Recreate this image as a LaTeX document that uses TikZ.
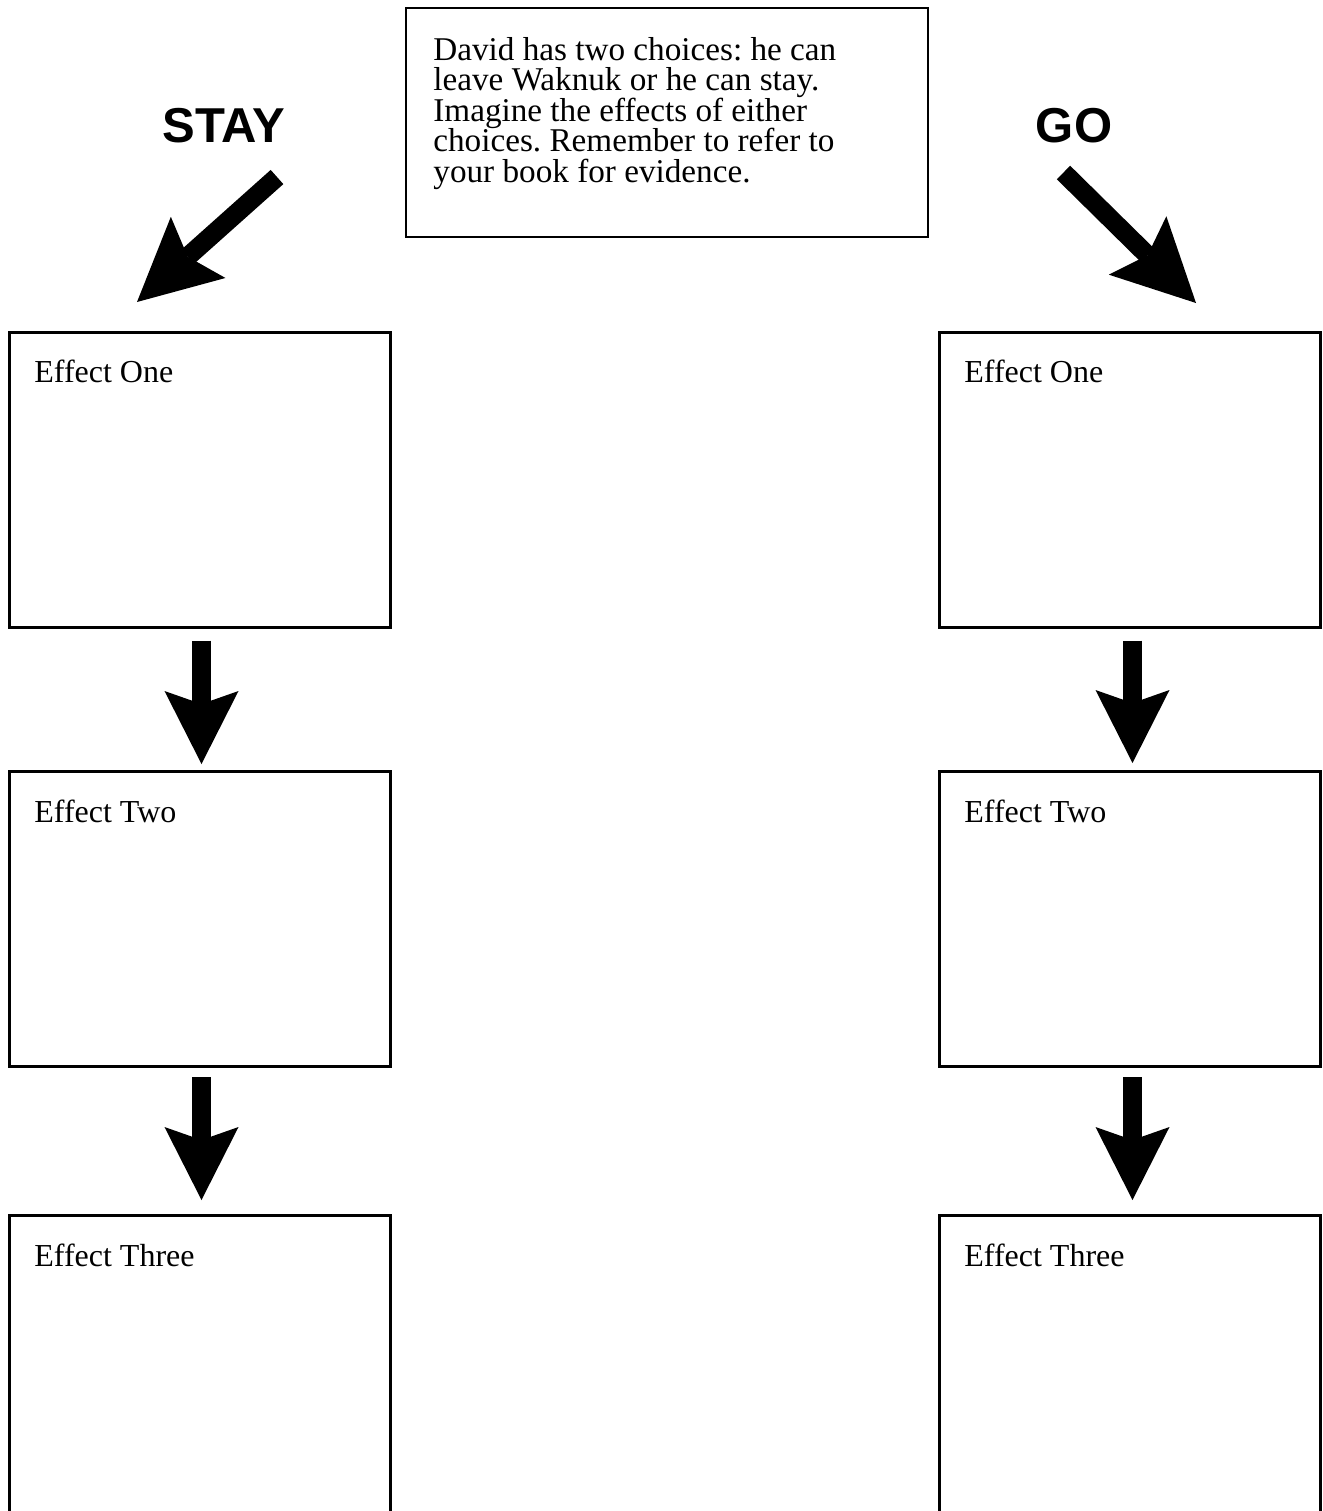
\documentclass[tikz,border=0pt]{standalone}
\usepackage{fontspec}
\setmainfont{Liberation Serif}
\newfontfamily\choicefont{Liberation Sans}
\usetikzlibrary{arrows.meta}
\frenchspacing
\newcommand\infobodyfont{\fontsize{16.6}{15.25}\selectfont\lineskiplimit=-20pt\relax\lineskip=0pt\relax}
\begin{document}
\begin{tikzpicture}[x=0.5pt,y=-0.5pt,
  effbox/.style={draw, line width=1.5pt, minimum width=190.5pt, minimum height=147.5pt, inner sep=0pt, outer sep=0pt},
  lastbox/.style={effbox, minimum height=157.25pt},
  efftext/.style={anchor=base west, inner sep=0pt, font=\fontsize{16}{19}\selectfont},
  textbox/.style={draw, line width=1.25pt, minimum width=261pt, minimum height=114.5pt, inner sep=0pt, outer sep=0pt},
  bodytext/.style={anchor=north west, align=left, inner sep=0pt, font=\infobodyfont},
  choice/.style={anchor=base, inner sep=0pt, font=\choicefont\bfseries\fontsize{24.5}{30}\selectfont},
  downarrow/.style={line width=9.5pt, -{Stealth[length=36.5pt, width=37pt, inset=6.5pt, line width=0pt]}},
  diagarrow/.style={line width=9.5pt, -{Stealth[length=41pt, width=41pt, inset=7pt, line width=0pt]}}
]
\useasboundingbox (0,0) rectangle (1323,1511);
\clip (0,0) rectangle (1323,1511);

% instruction box
\node[textbox] (info) at (667,122.5) {};
\node[bodytext] (infotext) at (433,37) {David has two choices: he can\\leave Waknuk or he can stay.\\Imagine the effects of either\\choices. Remember to refer to\\your book for evidence.};

% choice labels
\node[choice] (stay) at (224,142) {STAY};
\node[choice] (go) at (1074,142) {GO};

% left column boxes
\node[effbox] (L1) at (200,479.5) {};
\node[effbox] (L2) at (200,919) {};
\node[lastbox] (L3) at (200,1372.75) {};
% right column boxes
\node[effbox] (R1) at (1130,479.5) {};
\node[effbox] (R2) at (1130,919) {};
\node[lastbox] (R3) at (1130,1372.75) {};

% box texts
\node[efftext] (L1t) at ([shift={(24.5,50.5)}]L1.north west) {Effect One};
\node[efftext] (L2t) at ([shift={(24.5,50.5)}]L2.north west) {Effect Two};
\node[efftext] (L3t) at ([shift={(24.5,50.5)}]L3.north west) {Effect Three};
\node[efftext] (R1t) at ([shift={(24.5,50.5)}]R1.north west) {Effect One};
\node[efftext] (R2t) at ([shift={(24.5,50.5)}]R2.north west) {Effect Two};
\node[efftext] (R3t) at ([shift={(24.5,50.5)}]R3.north west) {Effect Three};

% diagonal arrows
\coordinate (stayTail) at (277,177);
\coordinate (stayTip) at (137,302);
\coordinate (goTail) at (1063.5,172.5);
\coordinate (goTip) at (1196,303);
\draw[diagarrow] (stayTail) -- (stayTip);
\draw[diagarrow] (goTail) -- (goTip);

% vertical arrows
\draw[downarrow, shorten <=6.75pt, shorten >=3.75pt] ([xshift=0.75pt]L1.south) -- ([xshift=0.75pt]L2.north);
\draw[downarrow, shorten <=5.25pt, shorten >=7.75pt] ([xshift=0.75pt]L2.south) -- ([xshift=0.75pt]L3.north);
\draw[downarrow, shorten <=6.75pt, shorten >=4.25pt] ([xshift=1.25pt]R1.south) -- ([xshift=1.25pt]R2.north);
\draw[downarrow, shorten <=5.25pt, shorten >=7.75pt] ([xshift=1.25pt]R2.south) -- ([xshift=1.25pt]R3.north);
\end{tikzpicture}
\end{document}
